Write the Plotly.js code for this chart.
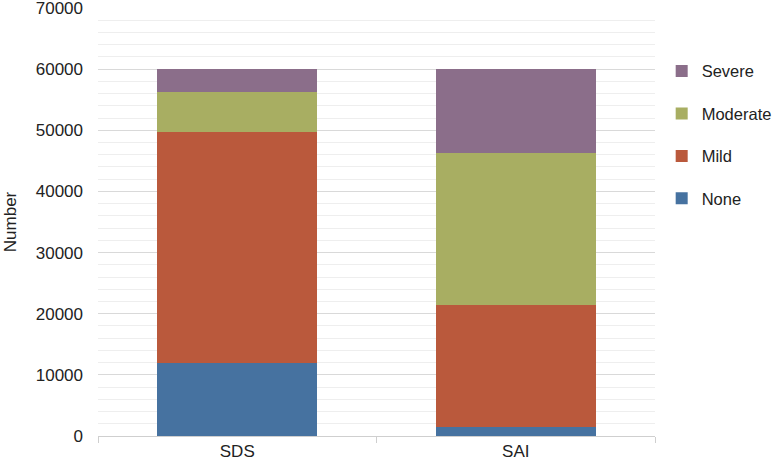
<!DOCTYPE html>
<html><head><meta charset="utf-8">
<script src="https://cdn.plot.ly/plotly-3.0.1.min.js"></script>
<style>html,body{margin:0;padding:0;background:#fff}#chart{width:778px;height:471px}</style>
</head><body><div id="chart"></div>
<script>
const categories = ["SDS", "SAI"];
const seriesNames = ["None", "Mild", "Moderate", "Severe"];
const noneVals = [12000, 1500];
const mildVals = [37700, 20000];
const moderateVals = [6600, 24800];
const severeVals = [3700, 13700];
const colors = ["#4672A0", "#BA593C", "#A8AE62", "#8B6E8A"];
const yTickVals = [0, 10000, 20000, 30000, 40000, 50000, 60000, 70000];

const allVals = [noneVals, mildVals, moderateVals, severeVals];
const traces = seriesNames.map((n, i) => ({
  type: "bar", name: n, x: categories, y: allVals[i],
  marker: {color: colors[i], line: {width: 0}},
  width: 0.575, legendgroup: n, legendrank: 4 - i
}));

const font = {family: "Liberation Sans, Arial, sans-serif", size: 17, color: "#222"};
const layout = {
  width: 778, height: 471,
  margin: {l: 98, r: 123, t: 8, b: 35, autoexpand: false},
  barmode: "stack",
  paper_bgcolor: "#fff", plot_bgcolor: "#fff",
  font: font,
  showlegend: true,
  legend: {x: 1.012, y: 0.893, xanchor: "left", yanchor: "top", traceorder: "grouped",
           tracegroupgap: 18, font: {family: font.family, size: 16.5, color: "#222"}},
  xaxis: {type: "category", tickson: "boundaries", ticks: "outside", ticklen: 6, tickcolor: "#cfcfcf",
          showline: true, linecolor: "#cfcfcf", linewidth: 1, showgrid: false, zeroline: false,
          tickfont: font},
  yaxis: {range: [0, 70000], tickvals: yTickVals, ticktext: yTickVals.map(String),
          showgrid: true, gridcolor: "#d9d9d9", gridwidth: 1, zeroline: false, showline: false,
          ticks: "", ticklabelstandoff: 14, ticklabeloverflow: "allow", tickfont: font,
          minor: {dtick: 2000, showgrid: true, gridcolor: "#eeeeee", gridwidth: 1, ticks: ""},
          title: {text: "Number", font: font, standoff: 14}}
};
Plotly.newPlot("chart", traces, layout, {displayModeBar: false, staticPlot: true});
</script></body></html>
